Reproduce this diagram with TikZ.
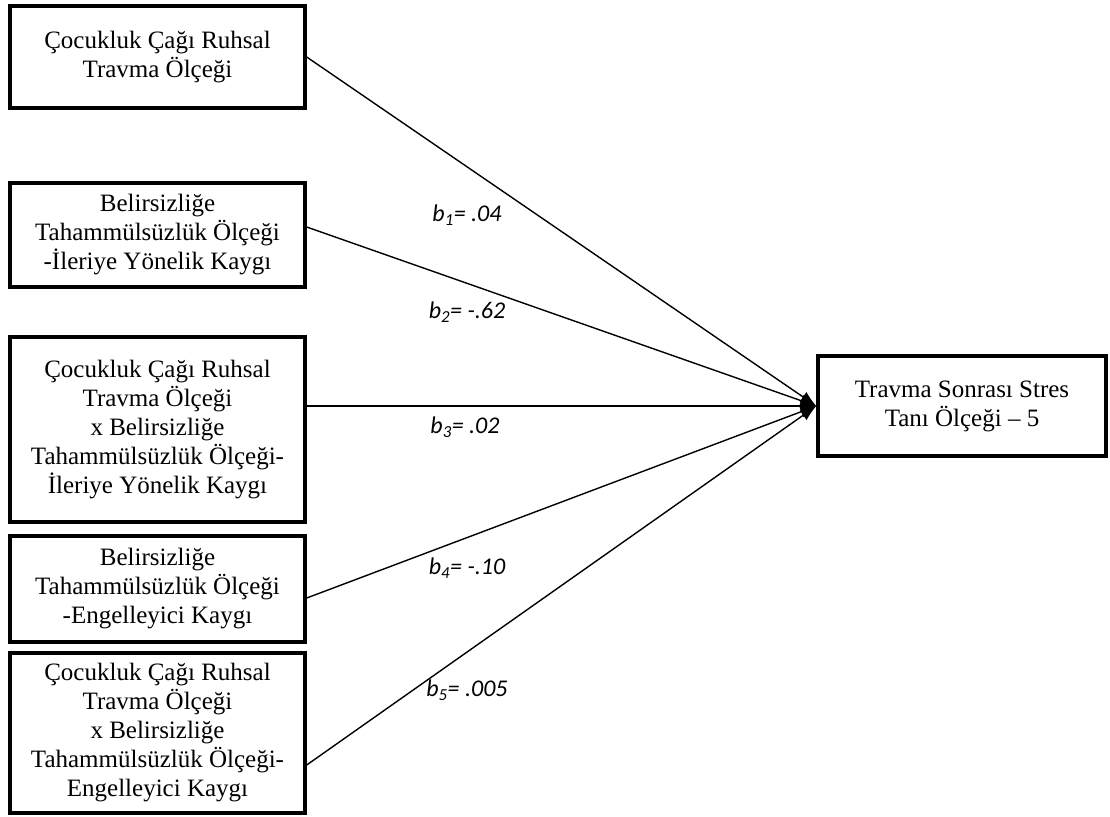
\documentclass[tikz,border=0pt]{standalone}
\usepackage{fontspec}
\setmainfont{Liberation Serif}
\newfontfamily\labelfont{Carlito}
\usetikzlibrary{arrows.meta,shadows}

\tikzset{
    olcek/.style={draw, line width=3.4pt, fill=white, align=center,
        minimum width=295pt, inner sep=0pt,
        font=\fontsize{25}{29}\selectfont,
        drop shadow={shadow xshift=2pt, shadow yshift=-2pt, opacity=1, fill=black}},
    katsayi/.style={font=\labelfont\itshape\fontsize{24}{28}\selectfont},
    yol/.style={line width=1.4pt, -{Latex[length=16pt,width=12pt]}}
}

\begin{document}
\begin{tikzpicture}[x=1pt,y=-1pt]
    \useasboundingbox (0,0) rectangle (1110,816);
    \node[olcek, minimum height=102pt] (travma) at (157.5,57)
        {Çocukluk Çağı Ruhsal\\Travma Ölçeği};
    \node[olcek, minimum height=104pt] (ileriye) at (157.5,235)
        {Belirsizliğe\\Tahammülsüzlük Ölçeği\\-İleriye Yönelik Kaygı};
    \node[olcek, minimum height=185pt] (etkilesimA) at (157.5,429.5)
        {Çocukluk Çağı Ruhsal\\Travma Ölçeği\\x Belirsizliğe\\Tahammülsüzlük Ölçeği-\\İleriye Yönelik Kaygı};
    \node[olcek, minimum height=106pt] (engel) at (157.5,589)
        {Belirsizliğe\\Tahammülsüzlük Ölçeği\\-Engelleyici Kaygı};
    \node[olcek, minimum height=160pt] (etkilesimB) at (157.5,733)
        {Çocukluk Çağı Ruhsal\\Travma Ölçeği\\x Belirsizliğe\\Tahammülsüzlük Ölçeği-\\Engelleyici Kaygı};
    \node[olcek, minimum width=288pt, minimum height=100pt] (ptsd) at (962,406)
        {Travma Sonrası Stres\\Tanı Ölçeği – 5};
    \coordinate (hub) at (ptsd.west);
    \draw[yol] (travma.east) -- (hub);
    \draw[yol] ([yshift=8pt]ileriye.east) -- (hub);
    \draw[yol] (etkilesimA.east |- hub) -- (hub);
    \draw[yol] ([yshift=-9pt]engel.east) -- (hub);
    \draw[yol] ([yshift=-32pt]etkilesimB.east) -- (hub);
    \node[katsayi] (b1) at (467,215) {b\textsubscript{1}= .04};
    \node[katsayi] (b2) at (467,312) {b\textsubscript{2}= -.62};
    \node[katsayi] (b3) at (465,427) {b\textsubscript{3}= .02};
    \node[katsayi] (b4) at (467,568) {b\textsubscript{4}= -.10};
    \node[katsayi] (b5) at (467,690) {b\textsubscript{5}= .005};
\end{tikzpicture}
\end{document}
